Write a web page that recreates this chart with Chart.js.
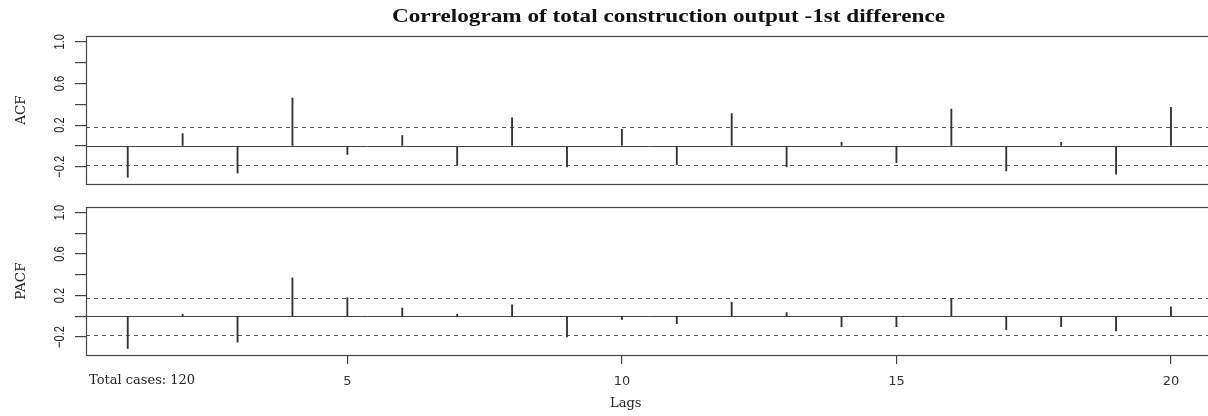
<!DOCTYPE html>
<html>
<head>
<meta charset="utf-8">
<script src="https://cdn.jsdelivr.net/npm/chart.js@4/dist/chart.umd.min.js"></script>
<style>
  html, body { margin: 0; padding: 0; background: #fff; overflow: hidden; width: 1208px; height: 416px; }
  #wrap { position: relative; width: 1208px; height: 416px; overflow: hidden; }
  .pane { position: absolute; left: 0; width: 1214px; }
</style>
</head>
<body>
<div id="wrap">
  <div class="pane" style="top:0;height:200px"><canvas id="acf"></canvas></div>
  <div class="pane" style="top:200px;height:216px"><canvas id="pacf"></canvas></div>
</div>
<script>
// Lags and sample (partial) autocorrelations of the differenced series
const lags = [1, 2, 3, 4, 5, 6, 7, 8, 9, 10, 11, 12, 13, 14, 15, 16, 17, 18, 19, 20];
const acfValues = [-0.30, 0.12, -0.26, 0.46, -0.08, 0.10, -0.18, 0.27, -0.20, 0.16,
                   -0.18, 0.31, -0.20, 0.035, -0.16, 0.355, -0.24, 0.035, -0.27, 0.37];
const pacfValues = [-0.31, 0.02, -0.25, 0.37, 0.18, 0.08, 0.02, 0.11, -0.20, -0.03,
                    -0.07, 0.135, 0.035, -0.10, -0.10, 0.165, -0.13, -0.10, -0.14, 0.09];
// Approximate 95% band, 2/sqrt(n)
const ciBound = 0.18;
const yTickValues = [-0.2, 0, 0.2, 0.4, 0.6, 0.8, 1.0];
const yTickLabels = ['\u22120.2', '', '0.2', '', '0.6', '', '1.0'];
const xTickValues = [5, 10, 15, 20];
const chartTitle = 'Correlogram of total construction output -1st difference';
const casesNote = 'Total cases: 120';
const xAxisTitle = 'Lags';

const INK = '#333';
const X_MIN = 0.24, X_MAX = 20.76;

// Frame, zero line and confidence band drawn from the chart's own scales
const framePlugin = {
  id: 'frame',
  beforeDatasetsDraw(chart) {
    const { ctx, chartArea: a, scales } = chart;
    const y = scales.y;
    const px = v => Math.round(y.getPixelForValue(v)) + 0.5;
    ctx.save();
    ctx.lineWidth = 1;
    ctx.strokeStyle = '#555';
    ctx.setLineDash([4, 4]);
    [ciBound, -ciBound].forEach(v => {
      ctx.beginPath();
      ctx.moveTo(a.left, px(v));
      ctx.lineTo(a.right, px(v));
      ctx.stroke();
    });
    ctx.setLineDash([]);
    ctx.strokeStyle = '#444';
    ctx.beginPath();
    ctx.moveTo(a.left, px(0));
    ctx.lineTo(a.right, px(0));
    ctx.stroke();
    ctx.lineWidth = 1.2;
    ctx.strokeRect(Math.round(a.left) + 0.5, Math.round(a.top) + 0.5,
                   Math.round(a.right - a.left), Math.round(a.bottom - a.top));
    ctx.restore();
  },
  afterDraw(chart, args, opts) {
    const { ctx, chartArea: a, scales } = chart;
    const y = scales.y;
    ctx.save();
    ctx.fillStyle = '#222';
    // rotated, narrow y tick labels
    ctx.font = '15px "Liberation Sans", Arial, sans-serif';
    ctx.textAlign = 'center';
    ctx.textBaseline = 'middle';
    yTickValues.forEach((v, i) => {
      if (!yTickLabels[i]) return;
      ctx.save();
      ctx.translate(60, y.getPixelForValue(v));
      ctx.rotate(-Math.PI / 2);
      ctx.scale(0.74, 1);
      ctx.fillText(yTickLabels[i], 0, 0);
      ctx.restore();
    });
    // y axis title
    ctx.save();
    ctx.font = '13.5px "DejaVu Serif", serif';
    ctx.translate(21, (a.top + a.bottom) / 2);
    ctx.rotate(-Math.PI / 2);
    ctx.fillText(opts.yTitle, 0, 0);
    ctx.restore();

    if (opts.title) {
      ctx.save();
      ctx.font = 'bold 18px "Liberation Serif", "Times New Roman", serif';
      ctx.fillStyle = '#111';
      ctx.textAlign = 'left';
      ctx.textBaseline = 'alphabetic';
      const w = ctx.measureText(opts.title).width;
      const target = 553;
      ctx.translate(392, 22);
      ctx.scale(target / w, 1);
      ctx.fillText(opts.title, 0, 0);
      ctx.restore();
    }
    if (opts.footer) {
      ctx.font = '13px "DejaVu Serif", serif';
      ctx.fillStyle = '#222';
      ctx.textAlign = 'left';
      ctx.fillText(casesNote, 89, 181);
      ctx.textAlign = 'center';
      ctx.fillText(xAxisTitle, scales.x.getPixelForValue(10.07), 204);
    }
    ctx.restore();
  }
};

function makePanel(id, values, yTitle, yMin, yMax, padTop, padBottom, withXAxis, title) {
  return new Chart(document.getElementById(id), {
    type: 'bar',
    data: {
      datasets: [{
        data: lags.map((l, i) => ({ x: l, y: values[i] })),
        backgroundColor: INK,
        borderWidth: 0,
        barThickness: 1.2
      }]
    },
    options: {
      responsive: true,
      maintainAspectRatio: false,
      animation: false,
      layout: { padding: { top: padTop, bottom: padBottom, left: 0, right: 1.3 } },
      plugins: {
        legend: { display: false },
        tooltip: { enabled: false },
        frame: { yTitle: yTitle, title: title, footer: withXAxis }
      },
      scales: {
        x: {
          type: 'linear',
          min: X_MIN, max: X_MAX,
          offset: false,
          display: withXAxis,
          afterBuildTicks: s => { s.ticks = xTickValues.map(v => ({ value: v })); },
          afterFit: s => { s.height = withXAxis ? 61 : 0; },
          grid: { offset: false, drawOnChartArea: false, drawTicks: true, tickLength: 9, color: '#444', lineWidth: 1.2 },
          border: { display: false },
          ticks: {
            color: INK,
            padding: 10,
            maxRotation: 0,
            font: { family: '"DejaVu Sans", sans-serif', size: 13 },
            callback: v => String(v)
          }
        },
        y: {
          type: 'linear',
          min: yMin, max: yMax,
          afterBuildTicks: s => { s.ticks = yTickValues.map(v => ({ value: v })); },
          afterFit: s => { s.width = 86; },
          grid: { drawOnChartArea: false, drawTicks: true, tickLength: 11, color: '#444', lineWidth: 1.2 },
          border: { display: false },
          ticks: { display: false }
        }
      }
    },
    plugins: [framePlugin]
  });
}

makePanel('acf', acfValues, 'ACF', -0.365, 1.056, 36, 16, false, chartTitle);
makePanel('pacf', pacfValues, 'PACF', -0.373, 1.050, 7.3, 0, true, null);
</script>
</body>
</html>
